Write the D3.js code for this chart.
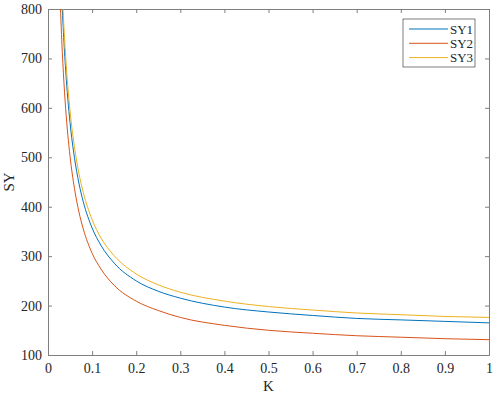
<!DOCTYPE html>
<html>
<head>
<meta charset="utf-8">
<script src="https://cdn.jsdelivr.net/npm/d3@7/dist/d3.min.js"></script>
<style>
body { margin:0; background:#fff; }
</style>
</head>
<body>
<div id="chart"></div>
<script>
var margin = {t:9,r:7,b:44,l:48};
var W = 496, H = 399;
var width = W - margin.l - margin.r,
    height = H - margin.t - margin.b;
var serif = '"Liberation Serif", "Times New Roman", serif';

// values
var kValues = [0.02,0.025,0.03,0.035,0.04,0.05,0.06,0.07,0.08,0.1,0.12,0.15,0.2,0.25,0.3,0.4,0.5,0.6,0.7,0.8,0.9,1.0];
var sy1 = [1209,996,854,753,677,570,499,448,410,357,322,286,250,229,215,197,187,180,174,171,168,165];
var sy2 = [1087,892,762,669,599,502,437,390,355,306,274,241,209,190,176,160,150,144,139,136,133,131];
var sy3 = [1254,1034,887,783,704,594,521,468,429,374,337,301,264,242,227,209,198,191,185,181.5,178,176];
var seriesNames = ["SY1","SY2","SY3"];
var colors = ["#0072BD","#D95319","#EDB120"];
var xTicks = [0,0.1,0.2,0.3,0.4,0.5,0.6,0.7,0.8,0.9,1];
var yTicks = [100,200,300,400,500,600,700,800];

var svg = d3.select('#chart').append('svg')
    .attr('width', W).attr('height', H)
    .style('font-family', serif);
var g = svg.append('g')
    .attr('transform','translate('+margin.l+','+margin.t+')');

var scaleX = d3.scaleLinear().domain([0,1]).range([0,width]);
var scaleY = d3.scaleLinear().domain([100,800]).range([height,0]);

g.append('clipPath').attr('id','clip')
    .append('rect').attr('width',width).attr('height',height);

// axes, MATLAB style: inward ticks, box on
var tickLen = 4;
g.append('g').attr('class','axis')
    .attr('transform','translate(0,'+height+')')
    .call(d3.axisBottom(scaleX).tickValues(xTicks).tickSize(-tickLen).tickPadding(8)
        .tickFormat(function(d){ return d === 0 || d === 1 ? d : d3.format('.1f')(d); }));
g.append('g').attr('class','axis')
    .call(d3.axisTop(scaleX).tickValues(xTicks).tickSize(-tickLen).tickFormat(''));
g.append('g').attr('class','axis')
    .call(d3.axisLeft(scaleY).tickValues(yTicks).tickSize(-tickLen).tickPadding(6));
g.append('g').attr('class','axis')
    .attr('transform','translate('+width+',0)')
    .call(d3.axisRight(scaleY).tickValues(yTicks).tickSize(-tickLen).tickFormat(''));

g.selectAll('.axis').attr('font-family', serif).attr('font-size', 14);
g.selectAll('.axis .domain, .axis line').attr('stroke','#7f7f7f');
g.selectAll('.axis text')
    .style('font-family', serif)
    .style('font-size','14px')
    .attr('fill','#262626');

var line = d3.line()
    .x(function(d){ return scaleX(d[0]); })
    .y(function(d){ return scaleY(d[1]); })
    .curve(d3.curveMonotoneX);

[sy1, sy2, sy3].forEach(function(s, i){
    g.append('path')
        .datum(kValues.map(function(k, j){ return [k, s[j]]; }))
        .attr('clip-path','url(#clip)')
        .attr('fill','none')
        .attr('stroke', colors[i])
        .attr('stroke-width', 1)
        .attr('d', line);
});

// axis labels
g.append('text')
    .attr('x', width/2).attr('y', height + 36)
    .attr('text-anchor','middle')
    .attr('fill','#262626')
    .style('font-size','15px')
    .text('K');
g.append('text')
    .attr('transform','translate(-34,'+(height/2)+') rotate(-90)')
    .attr('text-anchor','middle')
    .attr('fill','#262626')
    .style('font-size','15px')
    .text('SY');

// legend
var lg = g.append('g').attr('transform','translate(355,10)');
lg.append('rect')
    .attr('width',72).attr('height',48)
    .attr('fill','#fff').attr('stroke','#262626').attr('stroke-width',0.6);
seriesNames.forEach(function(n, i){
    var yy = 10 + i*14.3;
    lg.append('line')
        .attr('x1',6).attr('x2',45).attr('y1',yy).attr('y2',yy)
        .attr('stroke',colors[i]).attr('stroke-width',1);
    lg.append('text')
        .attr('x',47).attr('y',yy+4.5)
        .attr('fill','#262626')
        .style('font-size','13px')
        .text(n);
});
</script>
</body>
</html>
